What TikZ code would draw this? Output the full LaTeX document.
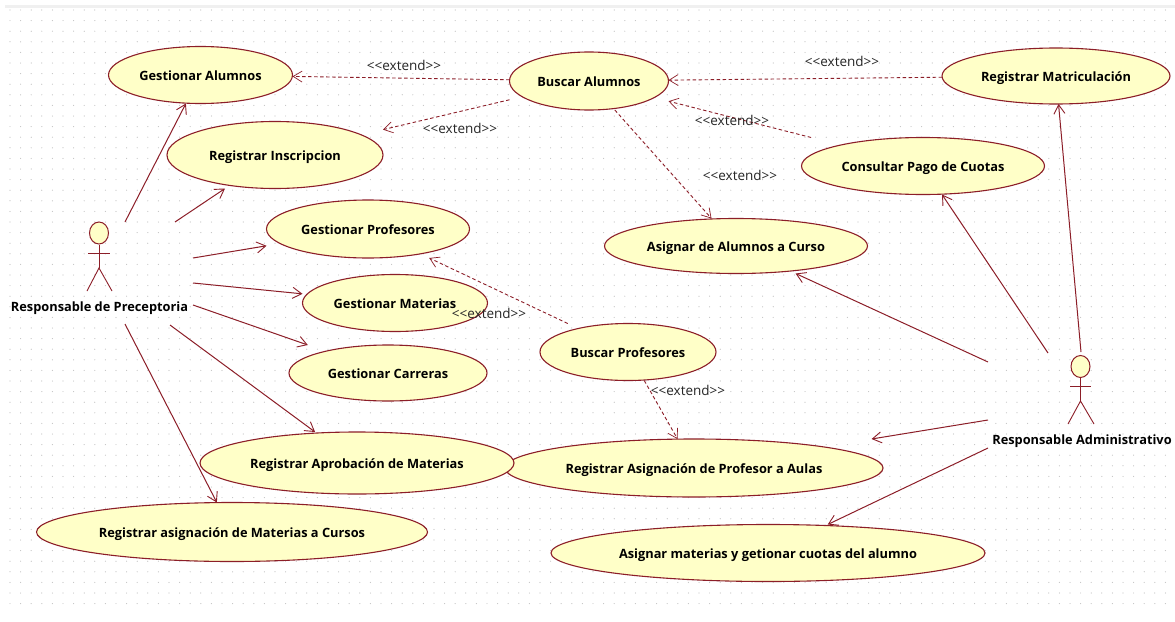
\documentclass[tikz,border=0pt]{standalone}
\usepackage{fontspec}
\setmainfont{Open Sans}
\usetikzlibrary{shapes.geometric,arrows.meta}
\definecolor{umlred}{RGB}{140,30,40}
\definecolor{umlfill}{RGB}{255,255,200}
\definecolor{griddot}{RGB}{195,195,195}
\tikzset{
  ucshape/.style={draw=umlred,fill=umlfill,line width=1.1pt},
  usecase/.style={rectangle,inner sep=0pt,outer sep=0pt,text height=11.5pt,text depth=0pt,font=\bfseries\fontsize{12.8}{14}\selectfont},
  assoc/.style={draw=umlred,line width=1pt,-{Straight Barb[length=9pt,width=11pt,line width=0.9pt]}},
  extendline/.style={draw=umlred,line width=0.9pt,dash pattern=on 3.5pt off 2.5pt,-{Straight Barb[length=9pt,width=11pt,line width=0.7pt]}},
  extlabel/.style={font=\fontsize{13.5}{15}\selectfont,inner sep=0pt,text=black!85},
  actorname/.style={font=\bfseries\fontsize{12.8}{14}\selectfont,inner sep=0pt},
  actorbody/.style={draw=umlred,line width=0.9pt},
  actorhead/.style={ellipse,draw=umlred,fill=umlfill,line width=1pt,inner sep=0pt,minimum width=19pt,minimum height=22pt},
}
% name, x, y, width, height, text
\newcommand{\usecasebox}[6]{%
  \draw[ucshape] (#2,#3) ellipse ({#4/2} and {#5/2});
  \node[usecase,minimum width=#4pt,minimum height=#5pt] (#1) at (#2,#3) {#6};
}
\newcommand{\extxt}{<{}<extend>{}>}
\begin{document}
\begin{tikzpicture}[x=1pt,y=-1pt]
\useasboundingbox (0,0) rectangle (1175,621);
\fill[white] (0,0) rectangle (1175,621);
\fill[black!6] (5,5) rectangle (1175,8);
\foreach \i in {0,...,109}{\foreach \j in {0,...,56}{
  \fill[griddot] ({10+10.6*\i},{10+10.6*\j}) circle (0.6pt);
}}
% use cases
\usecasebox{ga}{200.5}{75}{184}{57}{Gestionar Alumnos}
\usecasebox{ri}{275}{155}{216}{67}{Registrar Inscripcion}
\usecasebox{gp}{368}{229}{203}{58}{Gestionar Profesores}
\usecasebox{gm}{395}{303}{185}{57}{Gestionar Materias}
\usecasebox{gc}{388}{373}{198}{56}{Gestionar Carreras}
\usecasebox{rpa}{694}{468}{378}{58}{Registrar Asignación de Profesor a Aulas}
\usecasebox{ram}{357}{463}{314}{62}{Registrar Aprobación de Materias}
\usecasebox{rmc}{232}{532}{391}{59}{Registrar asignación de Materias a Cursos}
\usecasebox{ba}{589}{81}{159}{58}{Buscar Alumnos}
\usecasebox{rm}{1056}{76}{228}{56}{Registrar Matriculación}
\usecasebox{cp}{923}{166}{243}{57}{Consultar Pago de Cuotas}
\usecasebox{aac}{736}{246}{263}{55}{Asignar de Alumnos a Curso}
\usecasebox{bp}{628}{352}{176}{57}{Buscar Profesores}
\usecasebox{amc}{768}{553}{434}{57}{Asignar materias y getionar cuotas del alumno}
% actor left
\node[actorhead] (headl) at (99,233) {};
\coordinate (hipl) at (99,268);
\draw[actorbody] (headl.south) -- (hipl);
\draw[actorbody] (88,253) -- (110,253);
\draw[actorbody] (87,291) -- (hipl) -- (112,291);
\node[actorname] (respl) at (99.5,308) {Responsable de Preceptoria};
% actor right
\node[actorhead] (headr) at (1080.5,366.5) {};
\coordinate (hipr) at (1080.5,401);
\draw[actorbody] (headr.south) -- (hipr);
\draw[actorbody] (1070,386) -- (1091,386);
\draw[actorbody] (1068,424) -- (hipr) -- (1094,424);
\node[actorname] (respr) at (1082,441.5) {Responsable Administrativo};
% association free ends
\coordinate (l1) at (125,222);
\coordinate (l2) at (175,222);
\coordinate (l3) at (193,258);
\coordinate (l4) at (193,283);
\coordinate (l5) at (193,305);
\coordinate (l6) at (170,325);
\coordinate (l7) at (125,324);
\coordinate (r1) at (1081,352);
\coordinate (r2) at (1048,353);
\coordinate (r3) at (988,362);
\coordinate (r4) at (988,420);
\coordinate (r5) at (988,448);
\draw[assoc] (l1) -- (ga);
\draw[assoc] (l2) -- (ri);
\draw[assoc] (l3) -- (gp);
\draw[assoc] (l4) -- (gm);
\draw[assoc] (l5) -- (gc);
\draw[assoc] (l6) -- (ram);
\draw[assoc] (l7) -- (rmc);
\draw[assoc] (r1) -- (rm);
\draw[assoc] (r2) -- (cp);
\draw[assoc] (r3) -- (aac);
\draw[assoc] (r4) -- (rpa);
\draw[assoc] (r5) -- (amc);
% extend relations
\draw[extendline] (ba) -- (ga);
\draw[extendline] (ba) -- (ri);
\draw[extendline] (ba) -- (aac);
\draw[extendline] (rm) -- (ba);
\draw[extendline] (cp) -- (ba);
\draw[extendline] (bp) -- (gp);
\draw[extendline] (bp) -- (rpa);
% labels
\node[extlabel] (e1) at (404,65) {\extxt};
\node[extlabel] (e2) at (460,128) {\extxt};
\node[extlabel] (e3) at (842,61) {\extxt};
\node[extlabel] (e4) at (732,120) {\extxt};
\node[extlabel] (e5) at (740,175) {\extxt};
\node[extlabel] (e6) at (489,313) {\extxt};
\node[extlabel] (e7) at (688,390) {\extxt};
\end{tikzpicture}
\end{document}
